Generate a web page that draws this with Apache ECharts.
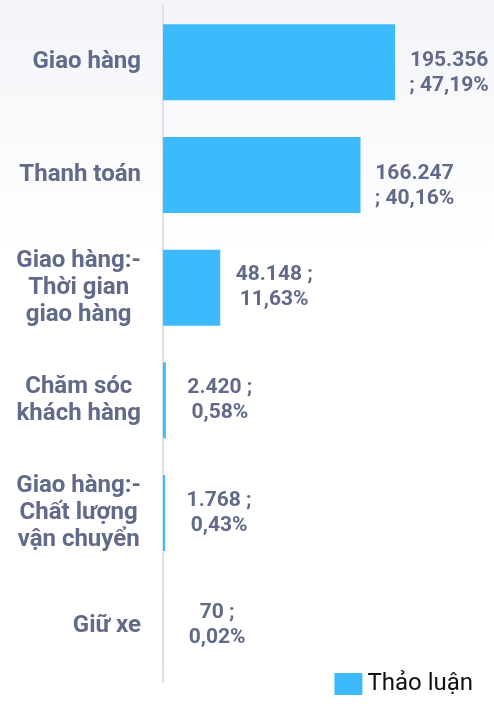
<!DOCTYPE html>
<html>
<head>
<meta charset="utf-8">
<script src="https://cdn.jsdelivr.net/npm/echarts@6/dist/echarts.min.js"></script>
<style>
  html, body { margin: 0; padding: 0; background: #fff; }
  #chart { width: 494px; height: 704px; }
</style>
</head>
<body>
<div id="chart"></div>
<script>
  // du lieu doc tu hinh
  var categories = ['Giao hàng', 'Thanh toán', 'Giao hàng:-\nThời gian\ngiao hàng', 'Chăm sóc\nkhách hàng', 'Giao hàng:-\nChất lượng\nvận chuyển', 'Giữ xe'];
  var values = [195356, 166247, 48148, 2420, 1768, 70];
  var percents = [47.19, 40.16, 11.63, 0.58, 0.43, 0.02];
  var seriesName = 'Thảo luận';

  var labelColor = '#616a89';
  var valueFont = 'bold 21px Roboto';
  var wrapWidth = 84;

  function fmtNum(n) {
    return String(n).replace(/\B(?=(\d{3})+(?!\d))/g, '.');
  }
  function fmtPct(p) {
    return p.toFixed(2).replace('.', ',') + '%';
  }

  // ngat dong theo tu, giong nhu label bi gioi han chieu rong
  var ctx = document.createElement('canvas').getContext('2d');
  ctx.font = valueFont;
  function wrapWords(text) {
    var words = text.split(' ');
    var lines = [];
    var cur = '';
    words.forEach(function (w) {
      var test = cur ? cur + ' ' + w : w;
      if (cur && ctx.measureText(test).width > wrapWidth) {
        lines.push(cur);
        cur = w;
      } else {
        cur = test;
      }
    });
    lines.push(cur);
    return lines;
  }

  var labelLines = values.map(function (v, i) {
    return wrapWords(fmtNum(v) + ' ; ' + fmtPct(percents[i]));
  });

  var barData = values.map(function (v, i) {
    // nhan cua cot dai bi lech xuong mot chut
    var dy = labelLines[i][1] && labelLines[i][1].charAt(0) === ';' ? 11 : 0;
    return { value: v, label: { offset: [54, dy] } };
  });

  var myChart = echarts.init(document.getElementById('chart'));

  var option = {
    backgroundColor: {
      type: 'linear', x: 0, y: 0, x2: 0, y2: 1,
      colorStops: [
        { offset: 0, color: '#f3f4f8' },
        { offset: 0.35, color: '#ffffff' },
        { offset: 1, color: '#ffffff' }
      ]
    },
    textStyle: { fontFamily: 'Roboto' },
    legend: {
      right: 16,
      bottom: 3,
      itemWidth: 28,
      itemHeight: 22,
      itemGap: 10,
      icon: 'rect',
      textStyle: { fontSize: 24, color: '#111', fontFamily: 'Roboto' },
      data: [seriesName]
    },
    grid: { left: 163, right: 34, top: 6, bottom: 22 },
    xAxis: {
      type: 'value',
      min: 0,
      max: 250000,
      show: false
    },
    yAxis: {
      type: 'category',
      inverse: true,
      data: categories,
      axisLine: { show: true, lineStyle: { color: '#dfe0ea', width: 2 } },
      axisTick: { show: false },
      axisLabel: {
        margin: 22,
        align: 'right',
        formatter: function (v) {
          return v.split('\n').map(function (l) { return '{c|' + l + '}'; }).join('\n');
        },
        rich: {
          c: {
            align: 'center',
            fontSize: 24,
            fontWeight: 'bold',
            lineHeight: 27,
            color: labelColor,
            fontFamily: 'Roboto'
          }
        }
      }
    },
    series: [{
      name: seriesName,
      type: 'bar',
      barWidth: 76,
      itemStyle: { color: '#3cbafb' },
      data: barData,
      label: {
        show: true,
        position: 'right',
        distance: 0,
        align: 'center',
        offset: [54, 0],
        fontSize: 21,
        fontWeight: 'bold',
        lineHeight: 25,
        color: labelColor,
        fontFamily: 'Roboto',
        formatter: function (p) {
          return labelLines[p.dataIndex].join('\n');
        }
      }
    }]
  };

  myChart.setOption(option);
</script>
</body>
</html>
